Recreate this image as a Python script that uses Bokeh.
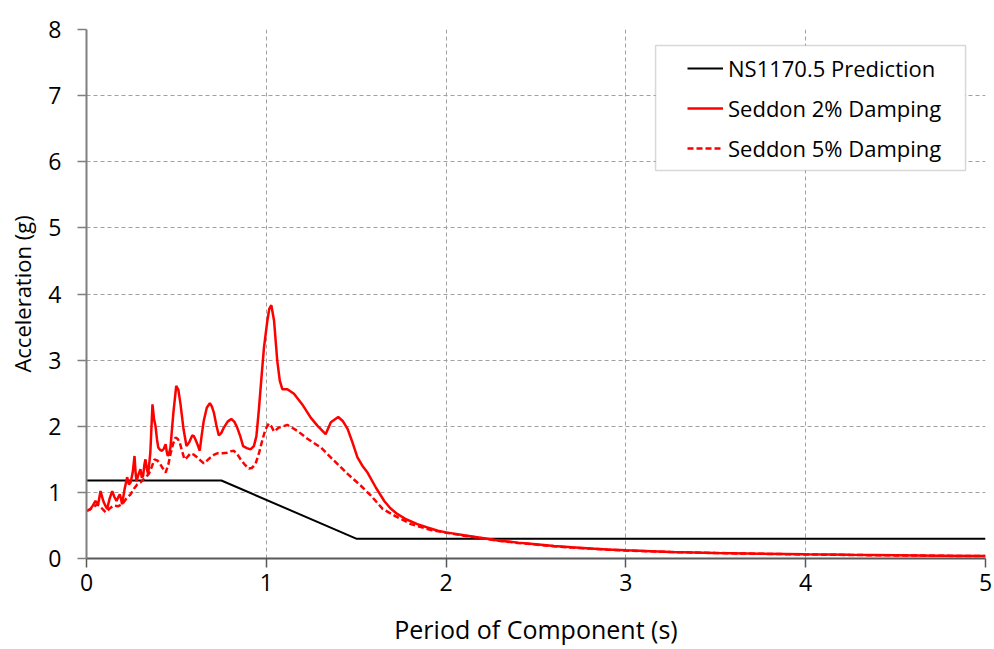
from bokeh.plotting import figure
from bokeh.models import Legend, LegendItem, Range1d, FixedTicker, BoxAnnotation
from bokeh.embed import file_html
from bokeh.resources import INLINE

# NS1170.5 design spectrum (plateau, linear descent, floor)
ns_period = [0.0, 0.75, 1.5, 5.0]
ns_accel = [1.18, 1.18, 0.30, 0.30]

# Seddon record response spectrum, 2% damping
s2_period = [0.0, 0.02, 0.035, 0.05, 0.065, 0.078, 0.088, 0.096, 0.105, 0.115, 0.128, 0.143,
             0.155, 0.167, 0.177, 0.185, 0.192, 0.198, 0.212, 0.226, 0.236, 0.245, 0.257,
             0.267, 0.273, 0.278, 0.29, 0.30, 0.308, 0.315, 0.322, 0.328, 0.336, 0.343,
             0.355, 0.367, 0.376, 0.384, 0.392, 0.399, 0.41, 0.42, 0.43, 0.44, 0.446, 0.452,
             0.46, 0.467, 0.483, 0.499, 0.511, 0.523, 0.54, 0.556, 0.572, 0.588, 0.597,
             0.606, 0.618, 0.63, 0.64, 0.652, 0.669, 0.686, 0.697, 0.708, 0.722, 0.736,
             0.75, 0.764, 0.785, 0.805, 0.822, 0.838, 0.855, 0.871, 0.892, 0.912, 0.931,
             0.945, 0.958, 0.972, 0.987, 1.006, 1.017, 1.028, 1.043, 1.061, 1.075, 1.089,
             1.117, 1.154, 1.20, 1.247, 1.284, 1.33, 1.359, 1.40, 1.425, 1.452, 1.48, 1.507,
             1.535, 1.563, 1.61, 1.656, 1.69, 1.73, 1.78, 1.84, 1.90, 1.954, 2.0, 2.1, 2.2,
             2.3, 2.4, 2.5, 2.6, 2.7, 2.8, 2.9, 3.0, 3.25, 3.5, 3.75, 4.0, 4.25, 4.5, 4.75,
             5.0]
s2_accel = [0.72, 0.74, 0.80, 0.87, 0.82, 1.02, 0.92, 0.85, 0.80, 0.75, 0.90, 1.02,
            0.93, 0.87, 0.93, 0.97, 0.90, 0.82, 1.05, 1.23, 1.12, 1.15, 1.30,
            1.55, 1.30, 1.17, 1.28, 1.35, 1.22, 1.25, 1.42, 1.50, 1.35, 1.28,
            1.60, 2.33, 2.10, 2.00, 1.80, 1.68, 1.64, 1.63, 1.66, 1.73, 1.62, 1.55,
            1.60, 1.68, 2.20, 2.61, 2.55, 2.33, 1.95, 1.70, 1.76, 1.86, 1.85,
            1.80, 1.72, 1.63, 1.85, 2.08, 2.28, 2.35, 2.30, 2.21, 2.02, 1.86,
            1.90, 1.98, 2.07, 2.11, 2.07, 1.98, 1.85, 1.70, 1.67, 1.65, 1.70,
            1.85, 2.23, 2.70, 3.19, 3.60, 3.78, 3.83, 3.60, 2.99, 2.69, 2.56,
            2.56, 2.49, 2.33, 2.13, 2.01, 1.88, 2.06, 2.14, 2.08, 1.96, 1.75, 1.53,
            1.40, 1.30, 1.07, 0.87, 0.76, 0.67, 0.59, 0.52, 0.465, 0.42, 0.395, 0.35, 0.31,
            0.27, 0.24, 0.215, 0.19, 0.17, 0.153, 0.137, 0.123, 0.10, 0.085, 0.073, 0.063,
            0.055, 0.048, 0.042, 0.037]

# Seddon record response spectrum, 5% damping
s5_period = [0.0, 0.03, 0.06, 0.085, 0.106, 0.13, 0.152, 0.175, 0.198, 0.22, 0.245, 0.265,
             0.282, 0.30, 0.319, 0.333, 0.347, 0.362, 0.378, 0.395, 0.41, 0.425, 0.44,
             0.455, 0.467, 0.482, 0.495, 0.507, 0.519, 0.532, 0.545, 0.56, 0.578, 0.597,
             0.615, 0.635, 0.652, 0.67, 0.69, 0.71, 0.727, 0.755, 0.782, 0.80, 0.82, 0.84,
             0.857, 0.88, 0.903, 0.92, 0.94, 0.96, 0.977, 0.995, 1.014, 1.028, 1.043, 1.07,
             1.117, 1.173, 1.229, 1.303, 1.377, 1.452, 1.526, 1.582, 1.647, 1.712, 1.805,
             1.916, 2.0, 2.1, 2.2, 2.3, 2.4, 2.5, 2.6, 2.7, 2.8, 2.9, 3.0, 3.25, 3.5, 3.75,
             4.0, 4.25, 4.5, 4.75, 5.0]
s5_accel = [0.72, 0.76, 0.82, 0.76, 0.70, 0.76, 0.80, 0.79, 0.82, 0.90, 0.97, 1.06,
            1.12, 1.15, 1.20, 1.24, 1.28, 1.38, 1.50, 1.48, 1.43, 1.36, 1.30,
            1.42, 1.58, 1.74, 1.83, 1.81, 1.75, 1.62, 1.50, 1.53, 1.59, 1.57,
            1.53, 1.48, 1.44, 1.48, 1.53, 1.57, 1.59, 1.59, 1.60, 1.62, 1.63, 1.57,
            1.50, 1.42, 1.36, 1.37, 1.43, 1.60, 1.78, 1.95, 2.04, 2.00, 1.92, 1.98,
            2.02, 1.93, 1.81, 1.68, 1.48, 1.28, 1.10, 0.95, 0.75, 0.65, 0.52,
            0.43, 0.39, 0.345, 0.305, 0.265, 0.235, 0.21, 0.185, 0.165, 0.15, 0.134, 0.12,
            0.098, 0.083, 0.071, 0.061, 0.053, 0.047, 0.041, 0.036]

x_ticks = [0, 1, 2, 3, 4, 5]
y_ticks = [0, 1, 2, 3, 4, 5, 6, 7, 8]

FONT = "Open Sans"

p = figure(width=994, height=649, output_backend="svg", toolbar_location=None,
           x_range=Range1d(0, 5), y_range=Range1d(0, 8),
           min_border_left=86, min_border_right=9, min_border_top=29, min_border_bottom=91)
p.outline_line_color = None
p.background_fill_color = "white"
p.border_fill_color = "white"

black = p.line(ns_period, ns_accel, line_color="black", line_width=2)
red2 = p.line(s2_period, s2_accel, line_color="#ff0000", line_width=2.5)
red5 = p.line(s5_period, s5_accel, line_color="#ff0000", line_width=2.5, line_dash="6 3")

for ax, ticks in ((p.xaxis[0], x_ticks), (p.yaxis[0], y_ticks)):
    ax.ticker = FixedTicker(ticks=ticks)
    ax.minor_tick_line_color = None
    ax.major_tick_in = 0
    ax.major_tick_out = 9
    ax.major_tick_line_color = "#7f7f7f"
    ax.major_tick_line_width = 1.5
    ax.axis_line_color = "#7f7f7f"
    ax.axis_line_width = 2
    ax.major_label_text_font = FONT
    ax.major_label_text_font_size = "23px"
    ax.major_label_text_color = "black"
    ax.axis_label_text_font = FONT
    ax.axis_label_text_font_style = "normal"
    ax.axis_label_text_color = "black"

p.xaxis.axis_line_color = "#595959"
p.xaxis.major_tick_line_color = "#595959"
p.xaxis.axis_label = "Period of Component (s)"
p.yaxis.axis_label = "Acceleration (g)"
p.xaxis.axis_label_text_font_size = "25px"
p.yaxis.axis_label_text_font_size = "22px"
p.xaxis.major_label_standoff = 6
p.yaxis.major_label_standoff = 16
p.xaxis.axis_label_standoff = 18
p.yaxis.axis_label_standoff = 8

for g in (p.xgrid[0], p.ygrid[0]):
    g.grid_line_color = "#a0a0a0"
    g.grid_line_width = 1
    g.grid_line_dash = "4 3"
p.xgrid.ticker = FixedTicker(ticks=x_ticks[1:])
p.ygrid.ticker = FixedTicker(ticks=y_ticks[1:])

# legend frame, drawn separately so the box can be wider than the entries
legend_frame = BoxAnnotation(left=3.165, right=4.889, bottom=5.868, top=7.758,
                             fill_color="white", fill_alpha=1,
                             line_color="#7f7f7f", line_width=1.5)
p.add_layout(legend_frame)

legend = Legend(items=[
    LegendItem(label="NS1170.5 Prediction", renderers=[black]),
    LegendItem(label="Seddon 2% Damping", renderers=[red2]),
    LegendItem(label="Seddon 5% Damping", renderers=[red5]),
], location="top_right")
legend.label_text_font = FONT
legend.label_text_font_size = "22px"
legend.label_text_color = "black"
legend.glyph_width = 36
legend.glyph_height = 20
legend.label_height = 20
legend.label_width = 233
legend.label_standoff = 5
legend.spacing = 10
legend.padding = 8
legend.margin = 16
legend.border_line_alpha = 0
legend.background_fill_alpha = 0
p.add_layout(legend)

open("out.html", "w").write(file_html(p, INLINE))
